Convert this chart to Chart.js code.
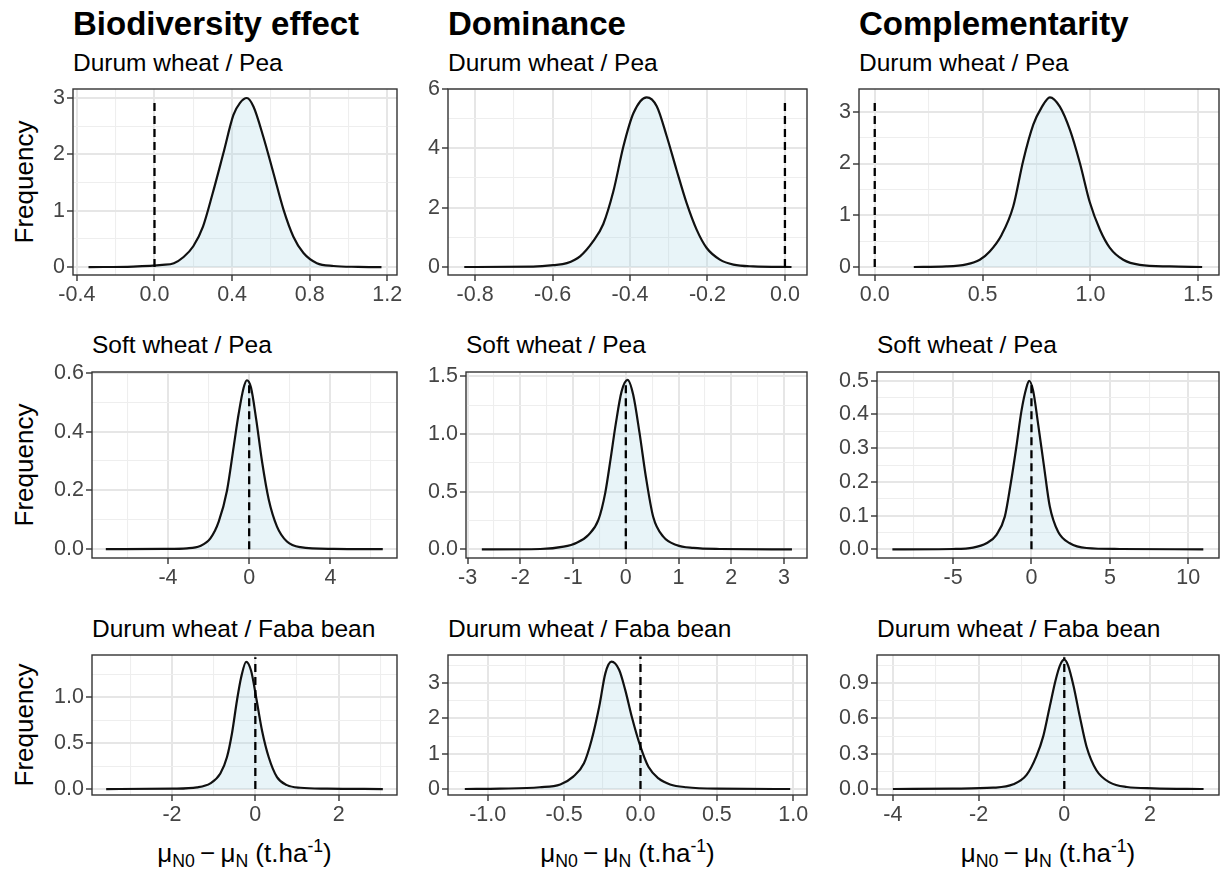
<!DOCTYPE html>
<html lang="en">
<head>
  <meta charset="UTF-8">
  <title>Biodiversity effect, dominance, complementarity</title>
  <script src="https://cdn.jsdelivr.net/npm/chart.js"></script>
  <style>
    html, body {
      margin: 0;
      padding: 0;
      background: #fff;
      overflow: hidden;
    }

    body {
      position: relative;
      width: 1220px;
      height: 872px;
      font-family: "Liberation Sans", Arial, sans-serif;
      color: #000;
    }

    canvas {
      position: absolute;
    }

    .title {
      position: absolute;
      top: 7px;
      font-weight: bold;
      font-size: 33px;
      line-height: 33px;
      white-space: nowrap;
    }

    .sub {
      position: absolute;
      font-size: 24.5px;
      line-height: 24px;
      white-space: nowrap;
    }

    .ylab {
      position: absolute;
      left: -76px;
      width: 200px;
      text-align: center;
      font-size: 26px;
      line-height: 26px;
      transform: rotate(-90deg);
    }

    .xlab {
      position: absolute;
      top: 840px;
      text-align: center;
      font-size: 26px;
      line-height: 26px;
      white-space: nowrap;
    }

    .xlab sub, .xlab sup {
      font-size: 0.68em;
      line-height: 0;
    }
    .xlab sub { vertical-align: -0.28em; }
    .xlab sup { vertical-align: 0.55em; }
  </style>
</head>
<body>
  <div class="title" style="left:73px">Biodiversity effect</div>
  <div class="title" style="left:448px">Dominance</div>
  <div class="title" style="left:859px">Complementarity</div>

  <div class="sub" style="left:73px; top:51px">Durum wheat / Pea</div>
  <div class="sub" style="left:448px; top:51px">Durum wheat / Pea</div>
  <div class="sub" style="left:859px; top:51px">Durum wheat / Pea</div>
  <div class="sub" style="left:92px; top:333px">Soft wheat / Pea</div>
  <div class="sub" style="left:466px; top:333px">Soft wheat / Pea</div>
  <div class="sub" style="left:877px; top:333px">Soft wheat / Pea</div>
  <div class="sub" style="left:92px; top:617px">Durum wheat / Faba bean</div>
  <div class="sub" style="left:448px; top:617px">Durum wheat / Faba bean</div>
  <div class="sub" style="left:877px; top:617px">Durum wheat / Faba bean</div>

  <div class="ylab" style="top:169px">Frequency</div>
  <div class="ylab" style="top:452px">Frequency</div>
  <div class="ylab" style="top:712px">Frequency</div>

  <div class="xlab" style="left:92px; width:305px">&mu;<sub>N0</sub>&thinsp;&minus;&thinsp;&mu;<sub>N</sub> (t.ha<sup>-1</sup>)</div>
  <div class="xlab" style="left:448px; width:359px">&mu;<sub>N0</sub>&thinsp;&minus;&thinsp;&mu;<sub>N</sub> (t.ha<sup>-1</sup>)</div>
  <div class="xlab" style="left:877px; width:342px">&mu;<sub>N0</sub>&thinsp;&minus;&thinsp;&mu;<sub>N</sub> (t.ha<sup>-1</sup>)</div>

  <script>
// --- density curves ---
// row 1 : Durum wheat / Pea
const bioDwPeaX = [-0.34, -0.11, 0.04, 0.10, 0.15, 0.20, 0.25, 0.30, 0.355, 0.407, 0.44, 0.476, 0.51, 0.562, 0.613, 0.665, 0.716, 0.768, 0.837, 0.923, 1.05, 1.17];
const bioDwPeaY = [0, 0.01, 0.04, 0.07, 0.18, 0.37, 0.72, 1.31, 2.02, 2.70, 2.91, 3.00, 2.85, 2.30, 1.67, 1.02, 0.54, 0.25, 0.07, 0.02, 0.005, 0];
const domDwPeaX = [-0.828, -0.65, -0.598, -0.563, -0.529, -0.495, -0.469, -0.443, -0.417, -0.391, -0.357, -0.331, -0.305, -0.28, -0.254, -0.228, -0.202, -0.168, -0.133, -0.082, 0.017];
const domDwPeaY = [0, 0.01, 0.06, 0.13, 0.36, 0.87, 1.45, 2.55, 4.07, 5.19, 5.72, 5.42, 4.40, 3.28, 2.16, 1.26, 0.64, 0.25, 0.08, 0.02, 0];
const comDwPeaX = [0.181, 0.332, 0.425, 0.487, 0.533, 0.588, 0.642, 0.688, 0.735, 0.773, 0.812, 0.858, 0.905, 0.951, 0.997, 1.044, 1.09, 1.152, 1.229, 1.368, 1.518];
const comDwPeaY = [0, 0.01, 0.05, 0.14, 0.30, 0.62, 1.17, 2.05, 2.75, 3.08, 3.28, 3.10, 2.65, 2.01, 1.25, 0.72, 0.37, 0.14, 0.04, 0.01, 0];
// row 2 : Soft wheat / Pea
const bioSwPeaX = [-7.06, -4.2, -3.06, -2.41, -1.91, -1.5, -1.09, -0.76, -0.52, -0.27, -0.11, 0.09, 0.35, 0.63, 0.96, 1.37, 1.86, 2.52, 4.16, 6.58];
const bioSwPeaY = [0, 0.001, 0.003, 0.011, 0.037, 0.094, 0.20, 0.35, 0.46, 0.55, 0.575, 0.55, 0.44, 0.30, 0.17, 0.077, 0.026, 0.007, 0.001, 0];
const domSwPeaX = [-2.73, -1.62, -1.18, -0.93, -0.71, -0.52, -0.39, -0.29, -0.19, -0.08, 0.035, 0.14, 0.26, 0.38, 0.52, 0.71, 0.96, 1.28, 1.78, 3.15];
const domSwPeaY = [0, 0.003, 0.023, 0.058, 0.125, 0.255, 0.49, 0.78, 1.09, 1.37, 1.47, 1.34, 1.01, 0.63, 0.28, 0.11, 0.038, 0.012, 0.003, 0];
const comSwPeaX = [-8.87, -5.0, -3.72, -2.87, -2.23, -1.70, -1.34, -0.96, -0.64, -0.32, -0.15, 0.11, 0.43, 0.79, 1.17, 1.70, 2.45, 3.51, 5.64, 10.96];
const comSwPeaY = [0, 0.001, 0.005, 0.018, 0.043, 0.097, 0.19, 0.305, 0.41, 0.48, 0.50, 0.47, 0.37, 0.25, 0.127, 0.052, 0.018, 0.004, 0.001, 0];
// row 3 : Durum wheat / Faba bean
const bioDwFabX = [-3.58, -1.96, -1.4, -1.08, -0.84, -0.68, -0.56, -0.44, -0.34, -0.22, -0.10, 0.02, 0.16, 0.32, 0.52, 0.76, 1.08, 1.72, 3.06];
const bioDwFabY = [0, 0.004, 0.018, 0.062, 0.17, 0.35, 0.61, 0.97, 1.22, 1.39, 1.29, 1.00, 0.64, 0.35, 0.13, 0.043, 0.014, 0.004, 0];
const domDwFabX = [-1.15, -0.92, -0.66, -0.525, -0.44, -0.37, -0.32, -0.27, -0.23, -0.19, -0.14, -0.10, -0.057, 0.0, 0.052, 0.118, 0.194, 0.30, 0.50, 0.98];
const domDwFabY = [0, 0.01, 0.05, 0.13, 0.35, 0.73, 1.39, 2.34, 3.28, 3.61, 3.38, 2.81, 2.05, 1.20, 0.63, 0.30, 0.13, 0.05, 0.01, 0];
const comDwFabX = [-4.0, -2.6, -1.66, -1.19, -0.88, -0.65, -0.49, -0.34, -0.2, -0.09, 0.0, 0.09, 0.22, 0.36, 0.52, 0.75, 1.07, 1.46, 2.08, 3.25];
const comDwFabY = [0, 0.003, 0.011, 0.04, 0.12, 0.28, 0.45, 0.70, 0.93, 1.06, 1.10, 1.05, 0.87, 0.62, 0.36, 0.16, 0.054, 0.017, 0.006, 0];

// height of the dashed zero line in each panel
const zeroLineTop = [2.98, 5.7, 3.25, 0.57, 1.45, 0.50, 1.44, 3.76, 1.12];

// axis limits
const xLimits = [[-0.42, 1.25], [-0.87, 0.057], [-0.073, 1.596], [-7.74, 7.28], [-3.03, 3.435], [-9.85, 11.96], [-3.92, 3.4], [-1.26, 1.09], [-4.37, 3.61]];
const yLimits = [[-0.14, 3.16], [-0.27, 6.0], [-0.155, 3.44], [-0.03, 0.603], [-0.075, 1.538], [-0.0257, 0.526], [-0.065, 1.464], [-0.17, 3.80], [-0.051, 1.14]];

// tick labels (major) and minor grid breaks
const xTicks = [
  [-0.4, 0, 0.4, 0.8, 1.2], [-0.8, -0.6, -0.4, -0.2, 0], [0, 0.5, 1, 1.5],
  [-4, 0, 4], [-3, -2, -1, 0, 1, 2, 3], [-5, 0, 5, 10],
  [-2, 0, 2], [-1, -0.5, 0, 0.5, 1], [-4, -2, 0, 2]
];
const xTickLabels = [
  ["-0.4", "0.0", "0.4", "0.8", "1.2"], ["-0.8", "-0.6", "-0.4", "-0.2", "0.0"], ["0.0", "0.5", "1.0", "1.5"],
  ["-4", "0", "4"], ["-3", "-2", "-1", "0", "1", "2", "3"], ["-5", "0", "5", "10"],
  ["-2", "0", "2"], ["-1.0", "-0.5", "0.0", "0.5", "1.0"], ["-4", "-2", "0", "2"]
];
const xMinor = [
  [-0.2, 0.2, 0.6, 1.0], [-0.7, -0.5, -0.3, -0.1], [0.25, 0.75, 1.25],
  [-6, -2, 2, 6], [-2.5, -1.5, -0.5, 0.5, 1.5, 2.5], [-7.5, -2.5, 2.5, 7.5],
  [-3, -1, 1, 3], [-0.75, -0.25, 0.25, 0.75], [-3, -1, 1, 3]
];
const yTicks = [
  [0, 1, 2, 3], [0, 2, 4, 6], [0, 1, 2, 3],
  [0, 0.2, 0.4, 0.6], [0, 0.5, 1, 1.5], [0, 0.1, 0.2, 0.3, 0.4, 0.5],
  [0, 0.5, 1], [0, 1, 2, 3], [0, 0.3, 0.6, 0.9]
];
const yTickLabels = [
  ["0", "1", "2", "3"], ["0", "2", "4", "6"], ["0", "1", "2", "3"],
  ["0.0", "0.2", "0.4", "0.6"], ["0.0", "0.5", "1.0", "1.5"], ["0.0", "0.1", "0.2", "0.3", "0.4", "0.5"],
  ["0.0", "0.5", "1.0"], ["0", "1", "2", "3"], ["0.0", "0.3", "0.6", "0.9"]
];
const yMinor = [
  [0.5, 1.5, 2.5], [1, 3, 5], [0.5, 1.5, 2.5],
  [0.1, 0.3, 0.5], [0.25, 0.75, 1.25], [0.05, 0.15, 0.25, 0.35, 0.45],
  [0.25, 0.75, 1.25], [0.5, 1.5, 2.5, 3.5], [0.15, 0.45, 0.75, 1.05]
];

const curves = [
  [bioDwPeaX, bioDwPeaY], [domDwPeaX, domDwPeaY], [comDwPeaX, comDwPeaY],
  [bioSwPeaX, bioSwPeaY], [domSwPeaX, domSwPeaY], [comSwPeaX, comSwPeaY],
  [bioDwFabX, bioDwFabY], [domDwFabX, domDwFabY], [comDwFabX, comDwFabY]
];

// plot panel boxes on the page: left, top, right, bottom
const panelBoxes = [
  [73, 89, 397, 275], [448, 89, 807, 275], [859, 89, 1219, 275],
  [92, 372, 397, 558], [466, 372, 807, 558], [877, 372, 1219, 558],
  [92, 655, 397, 795], [448, 655, 807, 795], [877, 655, 1219, 795]
];

Chart.defaults.font.family = "'Liberation Sans', Arial, sans-serif";

const PAD_L = 80, PAD_T = 16, PAD_R = 22, AXIS_H = 42;

const panelBorder = {
  id: "panelBorder",
  afterDraw(chart) {
    const a = chart.chartArea;
    const ctx = chart.ctx;
    ctx.save();
    ctx.strokeStyle = "#333333";
    ctx.lineWidth = 1.4;
    ctx.strokeRect(a.left, a.top, a.right - a.left, a.bottom - a.top);
    ctx.restore();
  }
};

function axis(limits, major, labels, minor, isX) {
  const all = major.concat(minor).sort((a, b) => a - b);
  const isMajor = v => major.indexOf(v) >= 0;
  return {
    type: "linear",
    min: limits[0],
    max: limits[1],
    afterBuildTicks: s => { s.ticks = all.map(v => ({ value: v })); },
    afterFit: s => {
      if (isX) s.height = AXIS_H; else s.width = PAD_L;
    },
    ticks: {
      autoSkip: false,
      maxRotation: 0,
      color: "#444444",
      font: { size: 21.5 },
      padding: isX ? 1 : 2,
      callback: v => {
        const i = major.indexOf(v);
        return i >= 0 ? labels[i] : "";
      }
    },
    grid: {
      color: c => (c.tick && isMajor(c.tick.value)) ? "#E6E6E6" : "#EEEEEE",
      lineWidth: c => (c.tick && isMajor(c.tick.value)) ? 2 : 1.1,
      tickLength: 6,
      tickWidth: 1.4,
      tickColor: c => (c.tick && isMajor(c.tick.value)) ? "#333333" : "rgba(0,0,0,0)"
    },
    border: { display: false }
  };
}

panelBoxes.forEach((box, k) => {
  const [L, T, R, B] = box;
  const canvas = document.createElement("canvas");
  canvas.width = R - L + PAD_L + PAD_R;
  canvas.height = B - T + PAD_T + AXIS_H;
  canvas.style.left = (L - PAD_L) + "px";
  canvas.style.top = (T - PAD_T) + "px";
  document.body.appendChild(canvas);

  const xs = curves[k][0], ys = curves[k][1];

  new Chart(canvas.getContext("2d"), {
    type: "line",
    data: {
      datasets: [
        {
          data: [{ x: 0, y: 0 }, { x: 0, y: zeroLineTop[k] }],
          borderColor: "#000000",
          borderWidth: 2.3,
          borderDash: [8, 5],
          pointRadius: 0,
          fill: false
        },
        {
          data: xs.map((x, i) => ({ x: x, y: ys[i] })),
          borderColor: "#111111",
          borderWidth: 2.2,
          pointRadius: 0,
          cubicInterpolationMode: "monotone",
          fill: "origin",
          backgroundColor: "rgba(173,216,230,0.28)"
        }
      ]
    },
    options: {
      responsive: false,
      animation: false,
      layout: { padding: { left: 0, top: PAD_T, right: PAD_R, bottom: 0 } },
      plugins: {
        legend: { display: false },
        tooltip: { enabled: false }
      },
      scales: {
        x: axis(xLimits[k], xTicks[k], xTickLabels[k], xMinor[k], true),
        y: axis(yLimits[k], yTicks[k], yTickLabels[k], yMinor[k], false)
      }
    },
    plugins: [panelBorder]
  });
});
  </script>
</body>
</html>
